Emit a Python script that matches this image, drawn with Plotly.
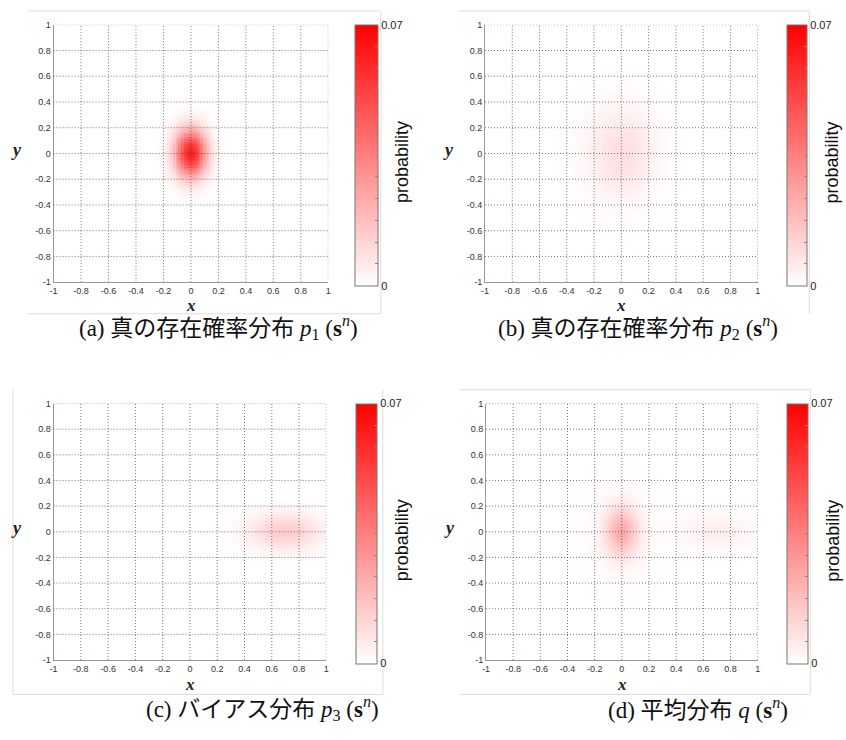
import numpy as np
import plotly.graph_objects as go

W, H = 846, 740

# ---------------- data ----------------
tick_vals = [-1, -0.8, -0.6, -0.4, -0.2, 0, 0.2, 0.4, 0.6, 0.8, 1]
tick_text = ["-1", "-0.8", "-0.6", "-0.4", "-0.2", "0", "0.2", "0.4", "0.6", "0.8", "1"]

# Gaussian components: p1 (true, narrow), p2 (true, wide), p3 (bias)
centers_x = [0.0, 0.0, 0.7]
centers_y = [0.0, 0.0, 0.0]
sigmas_x = [0.08, 0.17, 0.18]
sigmas_y = [0.13, 0.24, 0.10]
peaks = [0.062, 0.009, 0.014]

cbar_min, cbar_max = 0.0, 0.07
cbar_title = "probability"

caption_texts = ["(a) 真の存在確率分布", "(b) 真の存在確率分布", "(c) バイアス分布", "(d) 平均分布"]
caption_syms = ["<i>p</i><sub>1</sub>", "<i>p</i><sub>2</sub>", "<i>p</i><sub>3</sub>", "<i>q</i>"]

# ---------------- grids ----------------
gx = np.linspace(-1, 1, 101)
gy = np.linspace(-1, 1, 101)
XX, YY = np.meshgrid(gx, gy)

dists = []
for cx, cy, sx, sy, pk in zip(centers_x, centers_y, sigmas_x, sigmas_y, peaks):
    dists.append(pk * np.exp(-0.5 * (((XX - cx) / sx) ** 2 + ((YY - cy) / sy) ** 2)))
dists.append((dists[0] + dists[1] + dists[2]) / 3.0)  # mean distribution q

# ---------------- layout geometry (page pixels) ----------------
plots = [  # x0, x1, y0(top), y1(bottom)
    (50, 327, 20, 281),
    (485, 760, 20, 281),
    (50, 325, 404, 664),
    (486, 760, 404, 664),
]
cbars = [  # left x, thickness
    (354, 23),
    (790, 20),
    (355, 21),
    (790, 21),
]
xlabel_gap = [24, 24, 25, 25]
caption_pos = [(216, 327), (639, 327), (261, 713), (700, 713)]


def px(x):
    return x / W


def py(y):
    return 1 - y / H


fig = go.Figure()
shapes = []
annotations = []
colorscale = [[0, "rgb(255,255,255)"], [1, "rgb(255,0,0)"]]
minor_ticks = [cbar_max * i / 12 for i in range(13)]
minor_text = ["0"] + [""] * 11 + ["0.07"]


def ann(text, x, y, size, family, color="#111", angle=0):
    return dict(text=text, xref="paper", yref="paper", x=px(x), y=py(y),
                xanchor="center", yanchor="middle", showarrow=False, textangle=angle,
                font=dict(family=family, size=size, color=color))


for i, (Z, (x0, x1, y0, y1), (cbx, cbt)) in enumerate(zip(dists, plots, cbars)):
    n = "" if i == 0 else str(i + 1)
    xa, ya = "x" + n, "y" + n
    fig.add_trace(go.Heatmap(
        x=gx, y=gy, z=Z, zmin=cbar_min, zmax=cbar_max, zsmooth=False,
        colorscale=colorscale, xaxis=xa, yaxis=ya, hoverinfo="skip",
        colorbar=dict(
            x=px(cbx), xanchor="left", xpad=0, ypad=0,
            y=py(y0), yanchor="top", lenmode="pixels", len=(y1 - y0),
            thickness=cbt, outlinecolor="#777", outlinewidth=1,
            tickvals=minor_ticks, ticktext=minor_text,
            ticks="inside", ticklen=3, tickcolor="#888",
            tickfont=dict(family="Liberation Sans, Arial", size=11, color="#222"),
        ),
    ))
    axis_common = dict(
        range=[-1, 1], tickvals=tick_vals, ticktext=tick_text,
        showgrid=False, zeroline=False, showline=True, linecolor="#999", linewidth=1,
        ticks="", tickfont=dict(family="Liberation Sans, Arial", size=9, color="#333"),
        fixedrange=True,
    )
    fig.layout["xaxis" + n] = dict(axis_common, domain=[px(x0), px(x1)], anchor=ya)
    fig.layout["yaxis" + n] = dict(axis_common, domain=[py(y1), py(y0)], anchor=xa)

    # dotted grid drawn above the heatmap
    for v in tick_vals[1:]:
        shapes.append(dict(type="line", xref=xa, yref=ya, x0=v, x1=v, y0=-1, y1=1,
                           line=dict(color="rgba(70,70,70,0.75)", width=1, dash="1px,2px"),
                           layer="above"))
        shapes.append(dict(type="line", xref=xa, yref=ya, x0=-1, x1=1, y0=v, y1=v,
                           line=dict(color="rgba(70,70,70,0.75)", width=1, dash="1px,2px"),
                           layer="above"))

    # axis letters
    annotations.append(ann("<b><i>x</i></b>", (x0 + x1) / 2, y1 + xlabel_gap[i], 17,
                           "Liberation Serif, serif", "#222"))
    annotations.append(ann("<b><i>y</i></b>", x0 - 37, (y0 + y1) / 2 - 4, 18,
                           "Liberation Serif, serif", "#222"))
    # colorbar title
    annotations.append(ann(cbar_title, cbx + cbt + 25, (y0 + y1) / 2 + 9, 18,
                           "Liberation Sans, Arial", "#111", angle=-90))
    # caption
    cx, cy = caption_pos[i]
    annotations.append(ann(
        caption_texts[i] + " " + caption_syms[i] + " (<b>s</b><sup><i>n</i></sup>)",
        cx, cy, 23, "Liberation Serif, Noto Sans CJK JP, serif", "#111"))

# faint outer frames of the sub-figures
frame_col = "#dedede"
frame_lines = [
    (24, 6, 380, 6), (380, 6, 380, 313), (24, 313, 380, 313),
    (458, 6, 812, 6), (812, 6, 812, 313),
    (9, 390, 9, 699), (9, 699, 382, 699), (382, 390, 382, 699),
    (459, 390, 813, 390), (813, 390, 813, 699), (459, 699, 813, 699),
]
for (a, b, c, d) in frame_lines:
    shapes.append(dict(type="line", xref="paper", yref="paper",
                       x0=px(a), y0=py(b), x1=px(c), y1=py(d),
                       line=dict(color=frame_col, width=1)))

fig.update_layout(
    width=W, height=H, margin=dict(l=0, r=0, t=0, b=0),
    paper_bgcolor="white", plot_bgcolor="white",
    shapes=shapes, annotations=annotations, showlegend=False,
)

fig.write_html(
    "out.html",
    config={"displayModeBar": False},
    post_script="document.body.style.margin='0';document.body.style.overflow='hidden';",
)
